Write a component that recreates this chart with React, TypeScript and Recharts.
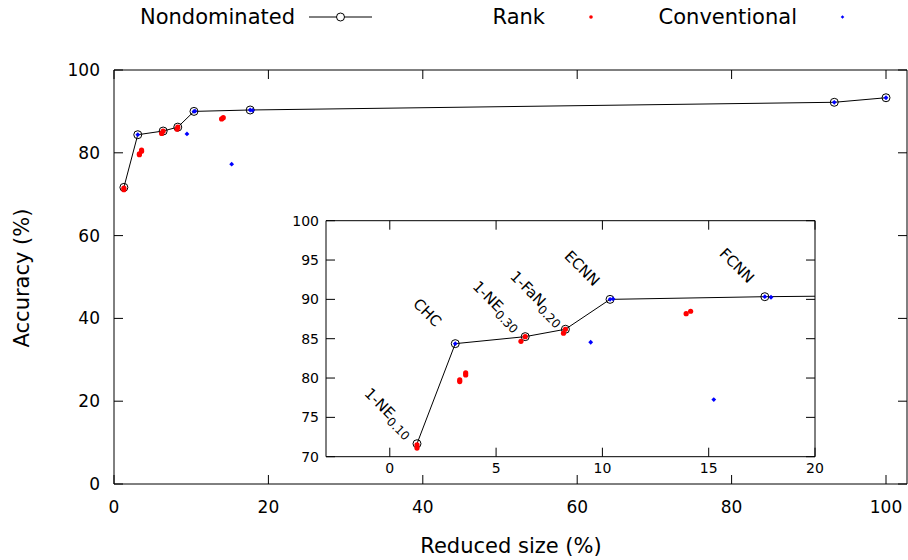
import React from 'react';
import { ScatterChart, Scatter, XAxis, YAxis } from 'recharts';

// Nondominated front (line + open circles)
const ndX = [1.28, 3.08, 6.37, 8.26, 10.36, 17.64, 93.3, 100];
const ndY = [71.65, 84.37, 85.26, 86.2, 90.0, 90.34, 92.2, 93.3];
const ndName = ['1-NE', 'CHC', '1-NE', '1-FaN', 'ECNN', 'FCNN', '', ''];
const ndSub = ['0.10', '', '0.30', '0.20', '', '', '', ''];
// Rank-based methods
const rankX = [1.28, 1.28, 3.29, 3.29, 3.57, 3.57, 6.37, 6.17, 8.26, 8.17, 13.94, 14.15];
const rankY = [71.5, 71.1, 79.76, 79.55, 80.65, 80.4, 85.26, 84.67, 86.2, 85.7, 88.18, 88.49];
// Conventional methods
const convX = [3.08, 9.45, 10.36, 10.5, 15.24, 17.64, 17.93, 93.3, 100];
const convY = [84.37, 84.55, 90.0, 90.05, 77.26, 90.34, 90.27, 92.2, 93.3];

const mainXTicks = [0, 20, 40, 60, 80, 100];
const mainYTicks = [0, 20, 40, 60, 80, 100];
const insetXTicks = [0, 5, 10, 15, 20];
const insetYTicks = [70, 75, 80, 85, 90, 95, 100];

const seriesNames = ['Nondominated', 'Rank', 'Conventional'];
const xTitle = 'Reduced size (%)';
const yTitle = 'Accuracy (%)';

const FONT = 'DejaVu Sans';

const ndData = ndX.map((x, i) => ({ x, y: ndY[i], name: ndName[i], sub: ndSub[i] }));
const rankData = rankX.map((x, i) => ({ x, y: rankY[i] }));
const convData = convX.map((x, i) => ({ x, y: convY[i] }));

const mkTick = (side: string, len: number, fs: number, gap: number, show: boolean) => (props: any) => {
  const { x, y, payload } = props;
  let line;
  let txt = null;
  if (side === 'left') {
    line = <line x1={x} y1={y} x2={x + len} y2={y} stroke="#000" />;
    if (show) txt = <text x={x - gap} y={y} textAnchor="end" dominantBaseline="central" fontSize={fs} fontFamily={FONT} fill="#000">{payload.value}</text>;
  } else if (side === 'right') {
    line = <line x1={x} y1={y} x2={x - len} y2={y} stroke="#000" />;
  } else if (side === 'bottom') {
    line = <line x1={x} y1={y} x2={x} y2={y - len} stroke="#000" />;
    if (show) txt = <text x={x} y={y + gap} textAnchor="middle" dominantBaseline="central" fontSize={fs} fontFamily={FONT} fill="#000">{payload.value}</text>;
  } else {
    line = <line x1={x} y1={y} x2={x} y2={y + len} stroke="#000" />;
  }
  return <g>{line}{txt}</g>;
};

const OpenCircle = (props: any) => {
  const { cx, cy } = props;
  if (cx == null || cy == null) return null;
  return <circle cx={cx} cy={cy} r={4} fill="none" stroke="#000" strokeWidth={1} />;
};

const LabeledCircle = (props: any) => {
  const { cx, cy, payload } = props;
  if (cx == null || cy == null) return null;
  const name = payload && payload.name;
  const sub = payload && payload.sub;
  return (
    <g>
      <circle cx={cx} cy={cy} r={4} fill="none" stroke="#000" strokeWidth={1} />
      {name ? (
        <text
          x={0}
          y={0}
          transform={`translate(${cx - 28},${cy - 31}) rotate(45)`}
          textAnchor="middle"
          dominantBaseline="central"
          fontSize={15}
          fontFamily={FONT}
          fill="#000"
        >
          {name}
          {sub ? <tspan dy={5} fontSize={12}>{sub}</tspan> : null}
        </text>
      ) : null}
    </g>
  );
};

const RedDot = (props: any) => {
  const { cx, cy } = props;
  if (cx == null || cy == null) return null;
  return <circle cx={cx} cy={cy} r={2.6} fill="#ff0000" />;
};

const BlueDot = (props: any) => {
  const { cx, cy } = props;
  if (cx == null || cy == null) return null;
  const s = 2.4;
  return <path d={`M${cx},${cy - s}L${cx + s},${cy}L${cx},${cy + s}L${cx - s},${cy}Z`} fill="#0000ff" />;
};

const LegendBox = () => (
  <svg width={908} height={34} style={{ position: 'absolute', left: 0, top: 0 }}>
    <text x={295} y={17} textAnchor="end" dominantBaseline="central" fontSize={21} fontFamily={FONT}>{seriesNames[0]}</text>
    <line x1={309} y1={17} x2={372} y2={17} stroke="#000" />
    <circle cx={340.5} cy={17} r={4} fill="#fff" stroke="#000" />
    <text x={545} y={17} textAnchor="end" dominantBaseline="central" fontSize={21} fontFamily={FONT}>{seriesNames[1]}</text>
    <circle cx={591} cy={17} r={1.8} fill="#ff0000" />
    <text x={797} y={17} textAnchor="end" dominantBaseline="central" fontSize={21} fontFamily={FONT}>{seriesNames[2]}</text>
    <path d="M842.5,15.2L844.3,17L842.5,18.8L840.7,17Z" fill="#0000ff" />
  </svg>
);

const axisCommon = {
  type: 'number' as const,
  interval: 0 as const,
  tickSize: 0,
  tickMargin: 0,
  tickLine: false,
  axisLine: { stroke: '#000', strokeWidth: 1 },
  allowDataOverflow: true,
};

export default function App() {
  return (
    <div style={{ position: 'absolute', left: 0, top: 0, width: 908, height: 560, background: '#fff', overflow: 'hidden' }}>
      <ScatterChart width={908} height={560} margin={{ top: 69, right: 0, bottom: 75, left: 113 }}>
        <XAxis xAxisId="b" dataKey="x" orientation="bottom" domain={[0, 102.72]} ticks={mainXTicks} height={1}
          {...axisCommon} tick={mkTick('bottom', 9, 17, 23, true)} />
        <XAxis xAxisId="t" dataKey="x" orientation="top" domain={[0, 102.72]} ticks={mainXTicks} height={1}
          {...axisCommon} tick={mkTick('top', 9, 17, 0, false)} />
        <YAxis yAxisId="l" dataKey="y" orientation="left" domain={[0, 100]} ticks={mainYTicks} width={1}
          {...axisCommon} tick={mkTick('left', 9, 17, 14, true)} />
        <YAxis yAxisId="r" dataKey="y" orientation="right" domain={[0, 100]} ticks={mainYTicks} width={1}
          {...axisCommon} tick={mkTick('right', 9, 17, 0, false)} />
        <Scatter name={seriesNames[0]} data={ndData} xAxisId="b" yAxisId="l" line={{ stroke: '#000', strokeWidth: 1 }} lineType="joint"
          shape={OpenCircle} isAnimationActive={false} />
        <Scatter name={seriesNames[1]} data={rankData} xAxisId="b" yAxisId="l" shape={RedDot} isAnimationActive={false} />
        <Scatter name={seriesNames[2]} data={convData} xAxisId="b" yAxisId="l" shape={BlueDot} isAnimationActive={false} />
        <Scatter data={[]} xAxisId="t" yAxisId="r" isAnimationActive={false} />
      </ScatterChart>
      <LegendBox />
      <svg width={908} height={560} style={{ position: 'absolute', left: 0, top: 0, pointerEvents: 'none' }}>
        <text x={511} y={546} textAnchor="middle" dominantBaseline="central" fontSize={21} fontFamily={FONT}>{xTitle}</text>
        <text x={0} y={0} transform="translate(22,278) rotate(-90)" textAnchor="middle" dominantBaseline="central" fontSize={21} fontFamily={FONT}>{yTitle}</text>
      </svg>
      <div style={{ position: 'absolute', left: 280, top: 200, width: 560, height: 280 }}>
        <ScatterChart width={560} height={280} margin={{ top: 19.7, right: 24, bottom: 22.3, left: 45 }}>
          <XAxis xAxisId="b" dataKey="x" orientation="bottom" domain={[-3, 20]} ticks={insetXTicks} height={1}
            {...axisCommon} tick={mkTick('bottom', 9, 14, 11, true)} />
          <XAxis xAxisId="t" dataKey="x" orientation="top" domain={[-3, 20]} ticks={insetXTicks} height={1}
            {...axisCommon} tick={mkTick('top', 9, 14, 0, false)} />
          <YAxis yAxisId="l" dataKey="y" orientation="left" domain={[70, 100]} ticks={insetYTicks} width={1}
            {...axisCommon} tick={mkTick('left', 9, 14, 7, true)} />
          <YAxis yAxisId="r" dataKey="y" orientation="right" domain={[70, 100]} ticks={insetYTicks} width={1}
            {...axisCommon} tick={mkTick('right', 9, 14, 0, false)} />
          <Scatter data={ndData} xAxisId="b" yAxisId="l" line={{ stroke: '#000', strokeWidth: 1 }} lineType="joint"
            shape={LabeledCircle} isAnimationActive={false} />
          <Scatter data={rankData} xAxisId="b" yAxisId="l" shape={RedDot} isAnimationActive={false} />
          <Scatter data={convData} xAxisId="b" yAxisId="l" shape={BlueDot} isAnimationActive={false} />
          <Scatter data={[]} xAxisId="t" yAxisId="r" isAnimationActive={false} />
        </ScatterChart>
      </div>
    </div>
  );
}
